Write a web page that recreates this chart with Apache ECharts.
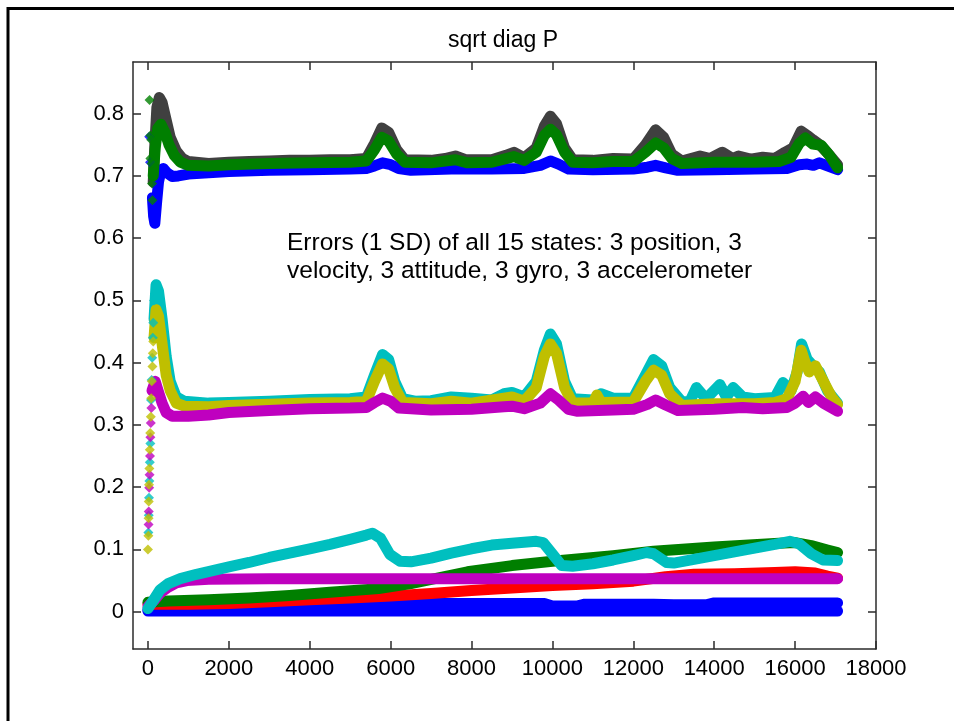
<!DOCTYPE html>
<html>
<head>
<meta charset="utf-8">
<script src="https://cdn.jsdelivr.net/npm/echarts@6/dist/echarts.min.js"></script>
<style>html,body{margin:0;padding:0;background:#fff;}#c{width:954px;height:721px;}</style>
</head>
<body>
<div id="c"></div>
<script>
// ---- tick labels ----
var xTicks = [0, 2000, 4000, 6000, 8000, 10000, 12000, 14000, 16000, 18000];
var yTicks = [0, 0.1, 0.2, 0.3, 0.4, 0.5, 0.6, 0.7, 0.8];
var titleText = 'sqrt diag P';
var noteLines = ['Errors (1 SD) of all 15 states: 3 position, 3', 'velocity, 3 attitude, 3 gyro, 3 accelerometer'];

// ---- top group (~0.7) ----
var grayTop = [[130,0.69],[170,0.75],[220,0.81],[280,0.826],[350,0.818],[450,0.79],[550,0.762],[700,0.74],[850,0.728],[1000,0.723],[1500,0.72],[2000,0.722],[2500,0.723],[3000,0.724],[3500,0.725],[4000,0.725],[4500,0.726],[5000,0.726],[5400,0.728],[5600,0.752],[5780,0.777],[5950,0.77],[6150,0.742],[6350,0.726],[7000,0.725],[7350,0.728],[7600,0.732],[7850,0.726],[8500,0.726],[8850,0.733],[9050,0.738],[9300,0.729],[9600,0.745],[9800,0.78],[9950,0.796],[10100,0.784],[10300,0.745],[10500,0.726],[11000,0.725],[11500,0.728],[12000,0.727],[12300,0.75],[12550,0.774],[12750,0.762],[12950,0.735],[13200,0.724],[13650,0.732],[13900,0.728],[14200,0.738],[14450,0.728],[14600,0.732],[14900,0.727],[15200,0.73],[15500,0.728],[15750,0.738],[15950,0.745],[16150,0.772],[16300,0.765],[16440,0.758],[16610,0.75],[16800,0.737],[17050,0.718]];
var blueTop = [[110,0.665],[140,0.635],[170,0.624],[210,0.655],[260,0.69],[320,0.708],[380,0.712],[470,0.705],[600,0.699],[750,0.7],[1000,0.703],[1500,0.705],[2000,0.707],[3000,0.709],[4000,0.71],[5000,0.711],[5400,0.712],[5600,0.716],[5800,0.721],[6000,0.718],[6200,0.712],[6500,0.709],[7500,0.711],[8500,0.711],[9300,0.712],[9700,0.717],[9950,0.724],[10150,0.719],[10400,0.711],[11000,0.71],[12000,0.711],[12350,0.714],[12550,0.717],[12800,0.713],[13100,0.709],[14000,0.71],[15000,0.711],[15800,0.712],[16100,0.718],[16300,0.719],[16450,0.717],[16600,0.721],[16800,0.716],[17050,0.71]];
var greenTop = [[130,0.70],[180,0.745],[240,0.776],[320,0.783],[420,0.77],[520,0.75],[650,0.733],[800,0.722],[1000,0.717],[1500,0.716],[2000,0.718],[3000,0.72],[4000,0.721],[5000,0.722],[5400,0.724],[5600,0.742],[5780,0.762],[5950,0.756],[6150,0.735],[6350,0.722],[7000,0.721],[7600,0.726],[7900,0.721],[8500,0.722],[9050,0.731],[9300,0.725],[9600,0.738],[9800,0.765],[9950,0.775],[10100,0.766],[10300,0.738],[10500,0.722],[11000,0.721],[11500,0.723],[12000,0.723],[12300,0.738],[12550,0.753],[12750,0.745],[12950,0.728],[13200,0.72],[14000,0.722],[15000,0.722],[15600,0.723],[15900,0.73],[16100,0.752],[16250,0.761],[16440,0.751],[16650,0.749],[16850,0.733],[17050,0.713]];
var greenTopStart = [[40,0.822],[60,0.765],[80,0.758],[60,0.728],[90,0.72],[100,0.688],[110,0.661]];
var blueTopStart = [[30,0.763],[50,0.722]];

// ---- middle group (~0.33) ----
var cyanMid = [[150,0.47],[200,0.525],[260,0.515],[350,0.47],[450,0.41],[550,0.37],[700,0.345],[900,0.338],[1500,0.335],[2000,0.336],[3000,0.338],[4000,0.341],[5000,0.342],[5400,0.345],[5600,0.38],[5800,0.413],[5950,0.405],[6100,0.37],[6300,0.342],[6600,0.338],[7000,0.339],[7500,0.345],[8000,0.343],[8500,0.34],[8800,0.35],[9000,0.352],[9300,0.345],[9600,0.37],[9800,0.42],[9950,0.446],[10100,0.43],[10300,0.37],[10500,0.342],[11000,0.34],[11200,0.35],[11500,0.343],[12000,0.343],[12300,0.38],[12500,0.405],[12700,0.395],[12900,0.36],[13200,0.337],[13400,0.338],[13560,0.36],[13800,0.342],[14140,0.365],[14300,0.345],[14470,0.36],[14700,0.345],[15000,0.342],[15500,0.344],[15700,0.368],[15900,0.355],[16050,0.385],[16160,0.43],[16300,0.405],[16440,0.395],[16600,0.385],[16800,0.355],[17050,0.335]];
var oliveMid = [[150,0.44],[200,0.485],[260,0.475],[350,0.43],[450,0.38],[550,0.355],[700,0.335],[900,0.33],[1500,0.329],[2000,0.331],[3000,0.333],[4000,0.335],[5000,0.336],[5400,0.338],[5600,0.37],[5800,0.398],[5950,0.39],[6100,0.36],[6300,0.336],[7000,0.334],[7500,0.338],[8000,0.335],[8800,0.343],[9000,0.345],[9300,0.338],[9600,0.36],[9800,0.41],[9950,0.43],[10100,0.415],[10300,0.36],[10500,0.335],[11000,0.335],[11100,0.348],[11200,0.336],[12000,0.337],[12300,0.37],[12500,0.388],[12700,0.38],[12900,0.35],[13200,0.331],[14000,0.334],[15000,0.334],[15500,0.336],[15800,0.342],[16000,0.37],[16150,0.42],[16250,0.4],[16350,0.385],[16500,0.395],[16700,0.37],[16900,0.345],[17050,0.333]];
var magentaMid = [[100,0.355],[180,0.37],[250,0.355],[350,0.335],[450,0.32],[600,0.314],[1000,0.314],[1500,0.316],[2000,0.32],[3000,0.323],[4000,0.326],[5000,0.327],[5400,0.328],[5600,0.336],[5800,0.343],[6000,0.338],[6200,0.327],[7000,0.324],[8000,0.325],[8800,0.329],[9000,0.33],[9300,0.326],[9700,0.335],[9950,0.35],[10150,0.34],[10400,0.325],[10600,0.322],[11500,0.324],[12000,0.325],[12350,0.333],[12550,0.34],[12800,0.332],[13100,0.323],[14000,0.325],[14700,0.328],[15200,0.326],[15800,0.328],[16000,0.335],[16200,0.346],[16330,0.336],[16500,0.345],[16700,0.335],[17050,0.322]];
var oliveStart = [[0,0.10],[10,0.122],[15,0.15],[20,0.177],[25,0.204],[35,0.23],[45,0.26],[55,0.287],[70,0.313],[80,0.343],[95,0.37],[110,0.394],[120,0.415],[130,0.434]];
var cyanStart = [[10,0.127],[20,0.155],[25,0.183],[35,0.21],[45,0.24],[60,0.27],[75,0.34],[90,0.372],[105,0.408],[120,0.44],[130,0.464],[150,0.50]];
var magentaStart = [[15,0.14],[20,0.161],[30,0.199],[40,0.22],[50,0.25],[60,0.28],[70,0.303],[85,0.327]];

// ---- bottom group (0 - 0.13) ----
var blueLowA = [[0,0.001],[2000,0.001],[6000,0.001],[10000,0.001],[14000,0.001],[17050,0.001]];
var blueLowB = [[0,0.003],[1000,0.004],[2500,0.006],[4000,0.009],[5000,0.011],[6000,0.013],[8000,0.013],[9800,0.013],[10000,0.009],[10600,0.009],[10800,0.012],[12500,0.012],[13000,0.011],[13800,0.011],[14000,0.014],[17050,0.014]];
var redLow = [[0,0.012],[1000,0.012],[2000,0.013],[3000,0.016],[4000,0.019],[5000,0.022],[6000,0.025],[7000,0.029],[8000,0.034],[9000,0.038],[10000,0.042],[11000,0.045],[12000,0.049],[12800,0.056],[13500,0.06],[14500,0.061],[15500,0.063],[16000,0.064],[16500,0.062],[16800,0.057],[17050,0.054]];
var greenLow = [[0,0.015],[500,0.017],[1500,0.019],[2500,0.022],[3500,0.026],[4500,0.031],[5700,0.037],[6500,0.045],[7900,0.064],[9000,0.074],[10000,0.081],[11500,0.09],[12500,0.097],[14000,0.104],[15600,0.11],[16000,0.111],[16400,0.106],[16800,0.099],[17050,0.095]];
var magentaLow = [[0,0.008],[150,0.018],[300,0.03],[470,0.038],[700,0.046],[960,0.05],[1500,0.052],[3000,0.053],[6000,0.053],[10000,0.053],[14000,0.053],[17050,0.053]];
var cyanLow = [[0,0.005],[150,0.02],[300,0.035],[500,0.045],[800,0.053],[1200,0.06],[1600,0.066],[2000,0.072],[2500,0.079],[3000,0.087],[3500,0.094],[4000,0.101],[4500,0.108],[5000,0.116],[5400,0.123],[5550,0.126],[5750,0.118],[5980,0.092],[6230,0.081],[6500,0.08],[7000,0.086],[7500,0.094],[8000,0.101],[8500,0.107],[9000,0.11],[9600,0.113],[9770,0.111],[10020,0.091],[10230,0.074],[10500,0.073],[11000,0.077],[11500,0.083],[12000,0.09],[12330,0.095],[12500,0.093],[12820,0.079],[13000,0.078],[13500,0.084],[14000,0.09],[14500,0.096],[15000,0.102],[15500,0.108],[15870,0.113],[16100,0.109],[16400,0.093],[16690,0.083],[17050,0.082]];

var C = {
  blue: '#0000ff', green: '#007f00', red: '#ff0000', cyan: '#00bfbf',
  magenta: '#bf00bf', olive: '#bfbf00', gray: '#404040'
};
var XMIN = -370, XMAX = 18000, YMIN = -0.06, YMAX = 0.883;
var BAND = 11;

function band(data, color, w) {
  return { type: 'line', data: data, xAxisIndex: 0, yAxisIndex: 0, showSymbol: false, symbol: 'none',
    lineStyle: { color: color, width: w || BAND, cap: 'round', join: 'round' }, silent: true };
}
function dots(data, color) {
  return { type: 'scatter', data: data, xAxisIndex: 0, yAxisIndex: 0, symbol: 'diamond', symbolSize: 10,
    itemStyle: { color: color }, silent: true, z: 3 };
}

var axisColor = '#2b2b2b';
var font = 'Liberation Sans, Arial, sans-serif';

var chart = echarts.init(document.getElementById('c'), null, { renderer: 'canvas' });
chart.setOption({
  animation: false,
  backgroundColor: '#fff',
  grid: { left: 133, top: 62, right: 78, bottom: 72, show: false },
  xAxis: [
    { type: 'value', min: XMIN, max: XMAX, position: 'bottom',
      axisLine: { show: true, onZero: false, lineStyle: { color: axisColor, width: 1.5 } },
      axisTick: { show: true, inside: true, length: 8, customValues: xTicks, lineStyle: { color: axisColor, width: 1.5 } },
      axisLabel: { show: true, customValues: xTicks, margin: 9, color: '#000', fontSize: 22, fontFamily: font,
        formatter: function (v) { return String(Math.round(v)); } },
      splitLine: { show: false } },
    { type: 'value', min: XMIN, max: XMAX, position: 'top',
      axisLine: { show: true, onZero: false, lineStyle: { color: axisColor, width: 1.5 } },
      axisTick: { show: true, inside: true, length: 8, customValues: xTicks, lineStyle: { color: axisColor, width: 1.5 } },
      axisLabel: { show: false }, splitLine: { show: false } }
  ],
  yAxis: [
    { type: 'value', min: YMIN, max: YMAX, position: 'left',
      axisLine: { show: true, onZero: false, lineStyle: { color: axisColor, width: 1.5 } },
      axisTick: { show: true, inside: true, length: 8, customValues: yTicks, lineStyle: { color: axisColor, width: 1.5 } },
      axisLabel: { show: true, customValues: yTicks, margin: 9, color: '#000', fontSize: 22, fontFamily: font,
        formatter: function (v) { return v === 0 ? '0' : (Math.round(v * 10) / 10).toFixed(1); } },
      splitLine: { show: false } },
    { type: 'value', min: YMIN, max: YMAX, position: 'right',
      axisLine: { show: true, onZero: false, lineStyle: { color: axisColor, width: 1.5 } },
      axisTick: { show: true, inside: true, length: 8, customValues: yTicks, lineStyle: { color: axisColor, width: 1.5 } },
      axisLabel: { show: false }, splitLine: { show: false } }
  ],
  series: [
    band(blueLowA, C.blue),
    band(blueLowB, C.blue),
    band(redLow, C.red),
    band(greenLow, C.green),
    band(magentaLow, C.magenta),
    band(cyanLow, C.cyan),
    band(cyanMid, C.cyan),
    band(oliveMid, C.olive),
    band(magentaMid, C.magenta),
    dots(cyanStart, C.cyan),
    dots(magentaStart, C.magenta),
    dots(oliveStart, C.olive),
    band(grayTop, C.gray),
    band(blueTop, C.blue),
    band(greenTop, C.green),
    dots(blueTopStart, C.blue),
    dots(greenTopStart, C.green)
  ],
  graphic: [
    { type: 'rect', silent: true, shape: { x: 8, y: 8.5, width: 1200, height: 1200 },
      style: { fill: 'none', stroke: '#000', lineWidth: 3 } },
    { type: 'text', silent: true, x: 503, y: 29, style: { text: titleText, font: '23px ' + font, fill: '#000', align: 'center', verticalAlign: 'top' } },
    { type: 'text', silent: true, x: 287, y: 231, style: { text: noteLines[0], font: '24.5px ' + font, fill: '#000', align: 'left', verticalAlign: 'top' } },
    { type: 'text', silent: true, x: 287, y: 259, style: { text: noteLines[1], font: '24.5px ' + font, fill: '#000', align: 'left', verticalAlign: 'top' } }
  ]
});
</script>
</body>
</html>
